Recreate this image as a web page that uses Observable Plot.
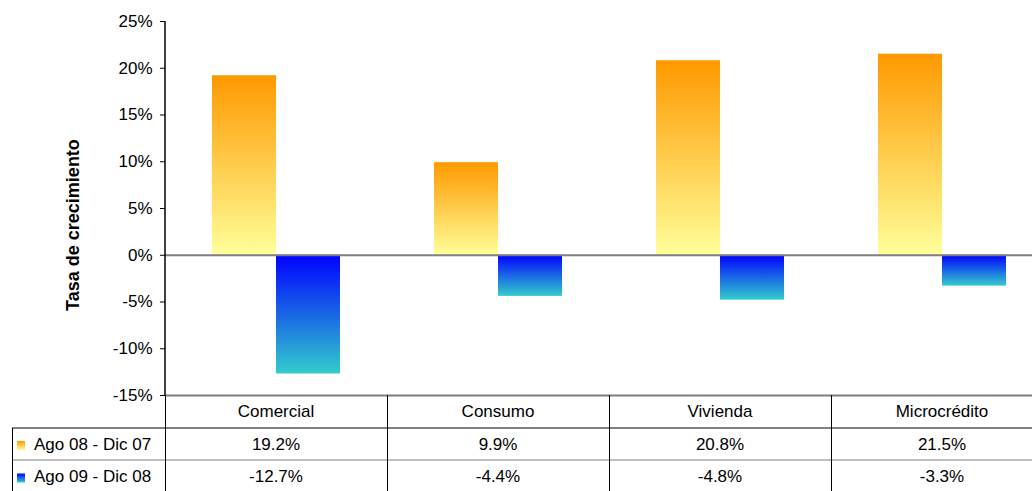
<!DOCTYPE html>
<html>
<head>
<meta charset="utf-8">
<script src="https://cdn.jsdelivr.net/npm/d3@7"></script>
<script src="https://cdn.jsdelivr.net/npm/@observablehq/plot@0.6"></script>
<style>
  html, body { margin: 0; padding: 0; background: #fff; overflow: hidden; }
</style>
</head>
<body>
<div id="chart"></div>
<script>
const categories = ["Comercial", "Consumo", "Vivienda", "Microcrédito"];
const series = ["Ago 08 - Dic 07", "Ago 09 - Dic 08"];
const values2008 = [0.192, 0.099, 0.208, 0.215];
const values2009 = [-0.127, -0.044, -0.048, -0.033];
const yTicks = [-0.15, -0.10, -0.05, 0, 0.05, 0.10, 0.15, 0.20, 0.25];
const yLabel = "Tasa de crecimiento";

const dataA = categories.map((c, i) => ({cat: c, series: series[0], value: values2008[i]}));
const dataB = categories.map((c, i) => ({cat: c, series: series[1], value: values2009[i]}));
const fmtTick = d => Math.round(d * 100) + "%";
const fmtVal = d => (d * 100).toFixed(1) + "%";

const FONT = "'Liberation Sans', Arial, sans-serif";

const plot = Plot.plot({
  width: 1032,
  height: 491,
  marginLeft: 165,
  marginRight: -21,
  marginTop: 21,
  marginBottom: 96,
  style: {fontFamily: FONT, fontSize: "16px", background: "white", color: "#000", overflow: "hidden"},
  fx: {domain: categories, padding: 0, axis: null},
  x: {domain: series, paddingInner: 0, paddingOuter: 0.73, axis: null},
  y: {domain: [-0.15, 0.25], axis: null},
  marks: [
    Plot.barY(dataA, {fx: "cat", x: "series", y: "value", fill: "url(#gradA)"}),
    Plot.barY(dataB, {fx: "cat", x: "series", y: "value", fill: "url(#gradB)"}),
    Plot.ruleY([0], {stroke: "#7f7f7f", strokeWidth: 2}),
    Plot.ruleY([-0.15], {stroke: "#7f7f7f", strokeWidth: 2}),
    Plot.axisY({ticks: yTicks, tickFormat: fmtTick, tickSize: 5, tickPadding: 8, fontSize: 17, label: null, stroke: "#000"})
  ]
});

document.getElementById("chart").appendChild(plot);

const svg = d3.select(plot);
const fx = plot.scale("fx");
const y = plot.scale("y");
const bw = fx.bandwidth;

// gradients
const defs = svg.insert("defs", ":first-child");
function grad(id, top, bottom) {
  const g = defs.append("linearGradient").attr("id", id).attr("x1", 0).attr("y1", 0).attr("x2", 0).attr("y2", 1);
  g.append("stop").attr("offset", "0%").attr("stop-color", top);
  g.append("stop").attr("offset", "100%").attr("stop-color", bottom);
}
grad("gradA", "#FF9900", "#FFFF99");
grad("gradB", "#0000FF", "#33CCCC");

const left = fx.apply(categories[0]);
const yTop = y.apply(0.25);
const yBot = y.apply(-0.15);
const g = svg.append("g").attr("font-family", FONT).attr("font-size", 17).attr("fill", "#000");

// y axis line
g.append("line").attr("x1", left).attr("x2", left).attr("y1", yTop).attr("y2", yBot).attr("stroke", "#000").attr("stroke-width", 1.5);

// y label
g.append("text")
  .attr("transform", `translate(79,225) rotate(-90)`)
  .attr("text-anchor", "middle")
  .attr("font-weight", "bold")
  .attr("font-size", 18)
  .text(yLabel);

// data table
const row1 = yBot + 33, row2 = yBot + 65, rowEnd = 491;
const tableRight = fx.apply(categories[categories.length - 1]) + bw;
g.append("line").attr("x1", 12).attr("x2", tableRight).attr("y1", row1).attr("y2", row1).attr("stroke", "#000");
g.append("line").attr("x1", 12).attr("x2", tableRight).attr("y1", row2).attr("y2", row2).attr("stroke", "#7f7f7f");
g.append("line").attr("x1", 12.5).attr("x2", 12.5).attr("y1", row1).attr("y2", rowEnd).attr("stroke", "#000");
categories.forEach((c, i) => {
  const x0 = fx.apply(c);
  g.append("line").attr("x1", x0 + 0.5).attr("x2", x0 + 0.5).attr("y1", yBot).attr("y2", rowEnd).attr("stroke", "#000");
  const cx = x0 + bw / 2;
  g.append("text").attr("x", cx).attr("y", (yBot + row1) / 2).attr("dy", "0.35em").attr("text-anchor", "middle").text(c);
  g.append("text").attr("x", cx).attr("y", (row1 + row2) / 2).attr("dy", "0.35em").attr("text-anchor", "middle").text(fmtVal(values2008[i]));
  g.append("text").attr("x", cx).attr("y", (row2 + rowEnd) / 2 + 1).attr("dy", "0.35em").attr("text-anchor", "middle").text(fmtVal(values2009[i]));
});
// legend keys in table
[["gradA", (row1 + row2) / 2], ["gradB", (row2 + rowEnd) / 2 + 1]].forEach(([id, cy], k) => {
  g.append("rect").attr("x", 17).attr("y", cy - 3).attr("width", 8).attr("height", 9).attr("fill", `url(#${id})`);
  g.append("text").attr("x", 34).attr("y", cy).attr("dy", "0.35em").attr("text-anchor", "start").text(series[k]);
});
</script>
</body>
</html>
